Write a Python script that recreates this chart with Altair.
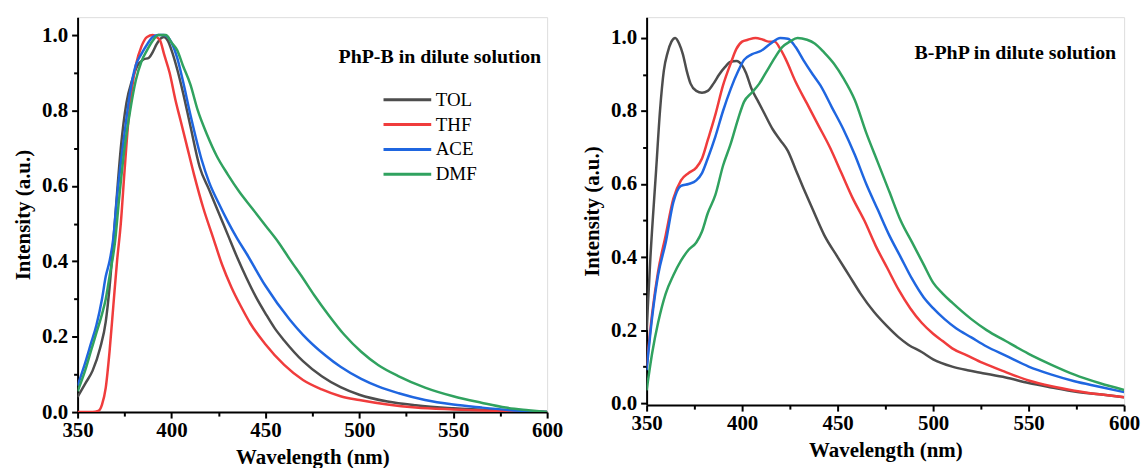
import altair as alt
import pandas as pd

SERIES = ["TOL", "THF", "ACE", "DMF"]
COLORS = ["#4d4d4d", "#f03c3c", "#1f66e0", "#30a25f"]

# ---- Left panel: PhP-B ----
L_TOL_x = [350,354,358,362,365,367,369,371,373,376,379,382,385,388,390,392,394,396,398,400,403,406,410,415,420,425,430,435,440,445,450,455,460,470,480,490,500,515,530,550,575,600]
L_TOL_y = [0.04,0.075,0.11,0.17,0.24,0.33,0.45,0.58,0.70,0.82,0.88,0.92,0.935,0.94,0.955,0.975,0.99,0.995,0.985,0.96,0.91,0.85,0.76,0.65,0.59,0.53,0.47,0.41,0.355,0.305,0.262,0.222,0.19,0.135,0.095,0.066,0.046,0.028,0.018,0.010,0.004,0.0]
L_THF_x = [350,358,361,363,365,367,369,371,373,375,377,379,381,384,387,390,392,394,396,399,402,405,408,412,417,422,427,432,437,442,450,460,470,480,490,500,515,530,550,575,600]
L_THF_y = [0.0,0.0,0.003,0.02,0.065,0.16,0.28,0.40,0.50,0.64,0.77,0.86,0.92,0.97,0.995,1.0,0.995,0.985,0.95,0.90,0.83,0.77,0.71,0.63,0.54,0.465,0.39,0.33,0.28,0.235,0.18,0.125,0.085,0.06,0.042,0.032,0.02,0.012,0.007,0.003,0.0]
L_ACE_x = [350,354,357,360,363,365,367,369,371,373,375,378,381,384,387,390,393,396,398,400,403,406,410,416,420,425,430,435,440,450,463,470,482,490,501,510,521,535,550,565,578,600]
L_ACE_y = [0.07,0.13,0.18,0.23,0.30,0.36,0.40,0.46,0.57,0.66,0.74,0.85,0.92,0.95,0.975,0.995,1.0,1.0,0.995,0.98,0.94,0.88,0.79,0.67,0.61,0.555,0.505,0.46,0.42,0.335,0.245,0.205,0.15,0.12,0.088,0.068,0.05,0.032,0.02,0.012,0.006,0.0]
L_DMF_x = [350,354,357,360,363,365,367,370,372,375,378,381,384,387,390,393,397,400,403,406,410,414,419,424,430,436,443,450,457,463,470,476,484,492,501,510,521,535,550,565,578,590,600]
L_DMF_y = [0.055,0.11,0.16,0.21,0.26,0.30,0.36,0.454,0.56,0.70,0.80,0.88,0.93,0.96,0.985,1.0,1.0,0.98,0.96,0.92,0.87,0.80,0.735,0.68,0.63,0.585,0.54,0.495,0.45,0.405,0.355,0.31,0.255,0.205,0.16,0.125,0.095,0.065,0.042,0.025,0.012,0.005,0.0]

# ---- Right panel: B-PhP ----
R_TOL_x = [350,352,355,357,359,361,363,365,367,369,371,373,376,379,382,385,388,391,394,397,400,402,405,408,411,416,420,424,428,432,437,443,450,456,462,469,476,482,487,494,500,510,518,526,538,550,562,574,587,600]
R_TOL_y = [0.2,0.4,0.64,0.8,0.91,0.96,0.99,1.0,0.985,0.955,0.91,0.875,0.855,0.85,0.855,0.875,0.90,0.92,0.935,0.937,0.925,0.905,0.86,0.83,0.80,0.75,0.72,0.69,0.64,0.59,0.53,0.46,0.40,0.35,0.30,0.25,0.21,0.18,0.16,0.14,0.12,0.10,0.09,0.082,0.07,0.055,0.043,0.032,0.024,0.016]
R_THF_x = [350,353,356,360,364,368,372,376,379,382,386,390,394,397,400,403,407,411,414,417,420,423,428,434,440,446,452,458,464,470,476,482,488,494,500,505,510,518,526,538,550,562,574,587,600]
R_THF_y = [0.1,0.25,0.36,0.46,0.56,0.61,0.63,0.645,0.67,0.72,0.79,0.87,0.93,0.97,0.99,0.995,1.0,0.995,0.99,0.99,0.97,0.94,0.88,0.82,0.76,0.70,0.63,0.56,0.50,0.43,0.37,0.31,0.26,0.22,0.19,0.17,0.15,0.13,0.11,0.085,0.062,0.046,0.034,0.024,0.016]
R_ACE_x = [350,353,356,360,364,368,372,376,379,382,386,390,394,398,401,405,410,415,420,424,428,432,437,441,447,453,459,465,471,477,483,489,495,500,506,512,520,528,538,550,562,574,587,600]
R_ACE_y = [0.09,0.24,0.35,0.44,0.55,0.595,0.60,0.61,0.63,0.67,0.73,0.80,0.86,0.91,0.94,0.955,0.965,0.985,1.0,0.998,0.975,0.94,0.90,0.87,0.81,0.75,0.68,0.60,0.53,0.46,0.40,0.34,0.29,0.26,0.23,0.205,0.18,0.155,0.13,0.10,0.078,0.06,0.045,0.03]
R_DMF_x = [350,353,356,360,364,368,372,376,379,382,386,390,394,398,401,405,409,413,417,421,425,429,434,438,443,448,453,459,465,471,477,483,489,495,500,505,510,520,528,538,550,562,574,587,600]
R_DMF_y = [0.035,0.14,0.22,0.30,0.35,0.39,0.42,0.44,0.47,0.52,0.57,0.65,0.71,0.78,0.825,0.85,0.875,0.91,0.945,0.975,0.99,1.0,0.995,0.985,0.96,0.93,0.89,0.83,0.74,0.66,0.58,0.50,0.44,0.38,0.33,0.30,0.275,0.23,0.20,0.17,0.135,0.105,0.078,0.055,0.036]

TICKS_X = [350, 375, 400, 425, 450, 475, 500, 525, 550, 575, 600]
TICKS_Y = [0.0, 0.1, 0.2, 0.3, 0.4, 0.5, 0.6, 0.7, 0.8, 0.9, 1.0]


def long(pairs):
    rows = []
    for name, xs, ys in pairs:
        for i, (x, y) in enumerate(zip(xs, ys)):
            rows.append({"solvent": name, "wl": x, "I": y, "o": i})
    return pd.DataFrame(rows)


left_df = long([("TOL", L_TOL_x, L_TOL_y), ("THF", L_THF_x, L_THF_y),
                ("ACE", L_ACE_x, L_ACE_y), ("DMF", L_DMF_x, L_DMF_y)])
right_df = long([("TOL", R_TOL_x, R_TOL_y), ("THF", R_THF_x, R_THF_y),
                 ("ACE", R_ACE_x, R_ACE_y), ("DMF", R_DMF_x, R_DMF_y)])

FONT = "'Liberation Serif', 'Times New Roman', 'DejaVu Serif', serif"


def panel(df, ydom, w, h, label, lx, ly, legx, legy):
    xaxis = alt.Axis(
        values=TICKS_X, title="Wavelength (nm)",
        labelExpr="datum.value % 50 == 0 ? datum.label : ''",
        tickSize={"condition": {"test": "datum.value % 50 == 0", "value": 6}, "value": 4},
        labelFlush=False, labelOverlap=False, grid=False,
        labelFont=FONT, labelFontSize=21, labelFontWeight="bold", labelColor="black",
        titleFont=FONT, titleFontSize=21, titleFontWeight="bold", titleColor="black",
        labelPadding=2, titlePadding=6,
        domainColor="black", domainWidth=2, tickColor="black", tickWidth=2,
    )
    yaxis = alt.Axis(
        values=TICKS_Y, title="Intensity (a.u.)", format=".1f",
        labelExpr="round(datum.value * 10) % 2 == 0 ? datum.label : ''",
        tickSize={"condition": {"test": "round(datum.value * 10) % 2 == 0", "value": 6}, "value": 4},
        labelFlush=False, labelOverlap=False, grid=False,
        labelFont=FONT, labelFontSize=21, labelFontWeight="bold", labelColor="black",
        titleFont=FONT, titleFontSize=21, titleFontWeight="bold", titleColor="black",
        labelPadding=4, titlePadding=8,
        domainColor="black", domainWidth=2, tickColor="black", tickWidth=2,
    )
    lines = alt.Chart(df).mark_line(strokeWidth=2.5, interpolate="monotone", clip=True).encode(
        x=alt.X("wl:Q", scale=alt.Scale(domain=[350, 600], nice=False, zero=False), axis=xaxis),
        y=alt.Y("I:Q", scale=alt.Scale(domain=ydom, nice=False, zero=False), axis=yaxis),
        color=alt.Color(
            "solvent:N",
            scale=alt.Scale(domain=SERIES, range=COLORS),
            sort=SERIES,
            legend=alt.Legend(
                title=None, orient="none", legendX=legx, legendY=legy,
                symbolType="stroke", symbolSize=2300, symbolStrokeWidth=3,
                clipHeight=20, rowPadding=5,
                labelFont=FONT, labelFontSize=19, labelColor="black",
                labelOffset=3,
            ),
        ),
        order="o:Q",
    )
    txt = alt.Chart(pd.DataFrame({"t": [label]})).mark_text(
        font=FONT, fontSize=20, fontWeight="bold", align="right", baseline="middle", color="black"
    ).encode(x=alt.value(lx), y=alt.value(ly), text="t:N")
    return alt.layer(lines, txt).properties(width=w, height=h)


left = panel(left_df, [0, 1.0475], 472, 397, "PhP-B in dilute solution", 466, 40, 306, 73)
right = panel(right_df, [-0.0055, 1.057], 480, 390, "B-PhP in dilute solution", 472, 36, 305, 73)

chart = alt.hconcat(left, right, spacing=17).properties(
    padding={"left": 12, "top": 15, "right": 5, "bottom": 5}
).configure_view(stroke="black", strokeWidth=2).configure(background="white")

chart.save("out.html", embed_options={"renderer": "svg", "actions": False})
